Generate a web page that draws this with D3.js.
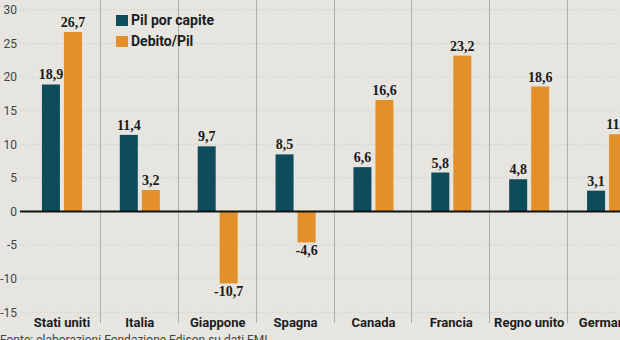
<!DOCTYPE html>
<html><head><meta charset="utf-8">
<script src="https://cdn.jsdelivr.net/npm/d3@7"></script>
<style>
html,body{margin:0;padding:0;background:#e6e5e0;}
svg{display:block;}
</style></head>
<body>
<svg id="chart" width="620" height="340"></svg>
<script>
const categories = ["Stati uniti","Italia","Giappone","Spagna","Canada","Francia","Regno unito","Germania"];
const pilPerCapite = [18.9, 11.4, 9.7, 8.5, 6.6, 5.8, 4.8, 3.1];
const debitoPil = [26.7, 3.2, -10.7, -4.6, 16.6, 23.2, 18.6, 11.5];
const seriesNames = ["Pil por capite","Debito/Pil"];
const yTicks = [30, 25, 20, 15, 10, 5, 0, -5, -10, -15];
const source = "Fonte: elaborazioni Fondazione Edison su dati FMI";

const colors = ["#0e4b5b", "#e3902a"];
const W = 620, H = 340;
const svg = d3.select("#chart");
svg.append("rect").attr("width", W).attr("height", H).attr("fill", "#e6e5e0");

const x = d3.scaleBand().domain(categories).range([23, 646]).padding(0);
const y = d3.scaleLinear().domain([-15, 30]).range([312.3, 9.9]);
const fmt = v => String(v).replace(".", ",");

// gridlines (dotted)
svg.append("g").selectAll("line").data(yTicks.filter(t => t !== 0)).join("line")
  .attr("x1", 20).attr("x2", W)
  .attr("y1", d => y(d)).attr("y2", d => y(d))
  .attr("stroke", "#c9c8c2").attr("stroke-width", 1).attr("stroke-dasharray", "1,2");

// vertical separators
svg.append("g").selectAll("line").data(categories.slice(1)).join("line")
  .attr("x1", d => Math.round(x(d)) - 0.5).attr("x2", d => Math.round(x(d)) - 0.5)
  .attr("y1", 0).attr("y2", 323)
  .attr("stroke", "#aeada8").attr("stroke-width", 1);

// y tick labels
svg.append("g").selectAll("text").data(yTicks).join("text")
  .attr("x", 17).attr("y", d => y(d)).attr("dy", "0.35em")
  .attr("text-anchor", "end")
  .attr("font-family", "Roboto, sans-serif").attr("font-size", 12)
  .attr("fill", "#444")
  .text(d => d);

// bars
const barW = 18, gap = 2;
const groups = svg.append("g").selectAll("g").data(categories).join("g");
const series = [pilPerCapite, debitoPil];
series.forEach((vals, si) => {
  groups.append("rect")
    .attr("x", (d, i) => x(d) + x.bandwidth() / 2 + (si === 0 ? -gap - barW : gap))
    .attr("width", barW)
    .attr("y", (d, i) => Math.min(y(vals[i]), y(0)))
    .attr("height", (d, i) => Math.abs(y(vals[i]) - y(0)))
    .attr("fill", colors[si]);
  groups.append("text")
    .attr("x", (d, i) => x(d) + x.bandwidth() / 2 + (si === 0 ? -gap - barW / 2 : gap + barW / 2))
    .attr("y", (d, i) => vals[i] >= 0 ? y(vals[i]) - 5 : y(vals[i]) + 13)
    .attr("text-anchor", "middle")
    .attr("font-family", "'Liberation Serif', serif").attr("font-weight", "bold")
    .attr("font-size", 14).attr("fill", "#1a1a1a")
    .text((d, i) => fmt(vals[i]));
});

// zero line
svg.append("line").attr("x1", 20).attr("x2", W)
  .attr("y1", y(0)).attr("y2", y(0))
  .attr("stroke", "#111").attr("stroke-width", 2);

// category labels
svg.append("g").selectAll("text").data(categories).join("text")
  .attr("x", d => x(d) + x.bandwidth() / 2).attr("y", 327)
  .attr("text-anchor", "middle")
  .attr("font-family", "Roboto, sans-serif").attr("font-weight", "bold")
  .attr("font-size", 13).attr("fill", "#1c1c1c")
  .text(d => d);

// legend
const lg = svg.append("g").attr("transform", "translate(116,15)");
seriesNames.forEach((n, i) => {
  lg.append("rect").attr("x", 0).attr("y", i * 21).attr("width", 12).attr("height", 11).attr("fill", colors[i]);
  lg.append("text").attr("x", 15).attr("y", i * 21 + 10)
    .attr("font-family", "Roboto, sans-serif").attr("font-weight", "bold")
    .attr("font-size", 14).attr("fill", "#1c1c1c").text(n);
});

// source
svg.append("text").attr("x", 0).attr("y", 344)
  .attr("font-family", "Roboto, sans-serif").attr("font-size", 12)
  .attr("fill", "#444").text(source);
</script>
</body></html>
